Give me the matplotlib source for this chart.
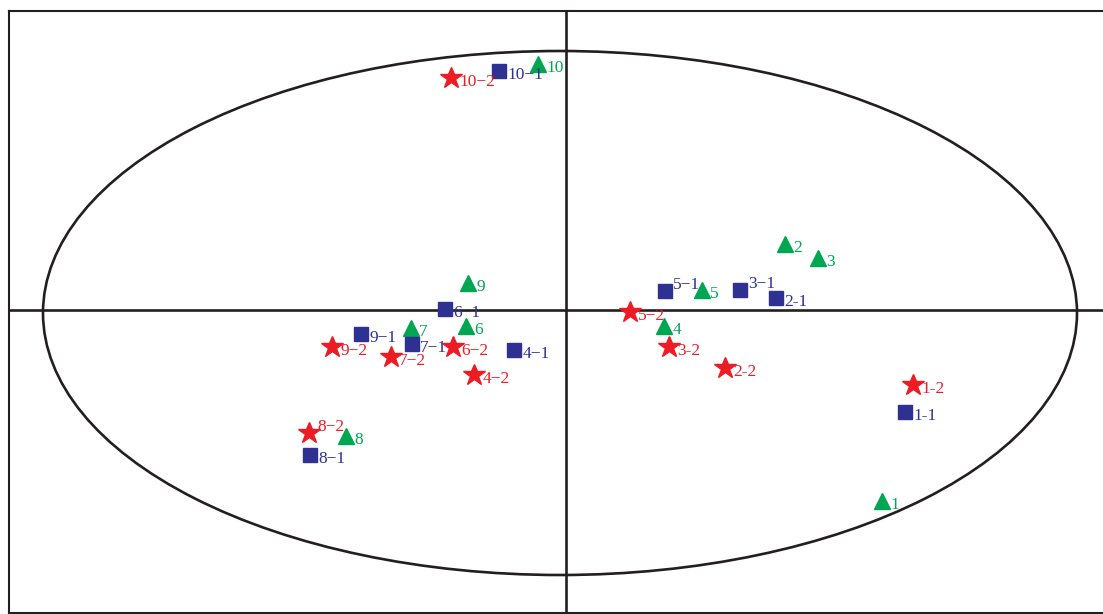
import matplotlib
matplotlib.use("Agg")
import matplotlib.pyplot as plt
from matplotlib.patches import Ellipse

# --- data ---
tri_labels = ['1', '2', '3', '4', '5', '6', '7', '8', '9', '10']
tri_x = [3.16, 2.19, 2.52, 0.98, 1.36, -1.00, -1.55, -2.20, -0.98, -0.28]
tri_y = [-1.91, 0.66, 0.52, -0.16, 0.20, -0.16, -0.18, -1.26, 0.27, 2.46]

sq_labels = ['1-1', '2-1', '3\u22121', '4\u22121', '5\u22121', '6\u22121',
             '7\u22121', '8\u22121', '9\u22121', '10\u22121']
sq_x = [3.39, 2.10, 1.74, -0.52, 0.99, -1.21, -1.54, -2.56, -2.05, -0.67]
sq_y = [-1.02, 0.12, 0.20, -0.40, 0.19, 0.01, -0.34, -1.45, -0.24, 2.39]

star_labels = ['1-2', '2-2', '3-2', '4\u22122', '5\u22122', '6\u22122',
               '7\u22122', '8\u22122', '9\u22122', '10\u22122']
star_x = [3.47, 1.59, 1.03, -0.92, 0.64, -1.13, -1.75, -2.57, -2.34, -1.15]
star_y = [-0.75, -0.58, -0.37, -0.65, -0.02, -0.37, -0.47, -1.23, -0.37, 2.32]

# confidence ellipse
ell_center = (-0.06, -0.03)
ell_width = 10.34
ell_height = 5.24

green = '#00A651'
navy = '#2E3192'
red = '#ED1C24'
dark = '#231F20'

# labels that sit above-right instead of right/below
up_labels = {'8\u22122', '5\u22121', '3\u22121'}

fig = plt.figure(figsize=(11.03, 6.14), dpi=100)
ax = fig.add_axes([9 / 1103, 1 / 614, 1097 / 1103, 602 / 614])
ax.set_xlim(-5.57, 5.40)
ax.set_ylim(-3.03, 2.99)

ax.axhline(0, color=dark, lw=1.9, zorder=1)
ax.axvline(0, color=dark, lw=1.9, zorder=1)
ax.add_patch(Ellipse(ell_center, ell_width, ell_height, fill=False,
                     edgecolor=dark, lw=1.9, zorder=1))

ax.plot(tri_x, tri_y, '^', color=green, ms=11.5, ls='none', zorder=3)
ax.plot(sq_x, sq_y, 's', color=navy, ms=10.5, ls='none', zorder=3)
ax.plot(star_x, star_y, '*', color=red, ms=16.5, ls='none', zorder=3)

font = dict(family=['Liberation Serif', 'DejaVu Serif'], fontsize=12.5)


def put_labels(xs, ys, labels, color, dx):
    for x, y, lab in zip(xs, ys, labels):
        if lab in up_labels:
            off = (dx, 4)
        else:
            off = (dx, -3)
        ax.annotate(lab, (x, y), xytext=off, textcoords='offset points',
                    color=color, ha='left', va='center', **font)


put_labels(tri_x, tri_y, tri_labels, green, 6)
put_labels(sq_x, sq_y, sq_labels, navy, 6)
put_labels(star_x, star_y, star_labels, red, 6)

ax.set_xticks([])
ax.set_yticks([])
for s in ax.spines.values():
    s.set_linewidth(1.5)
    s.set_color(dark)

fig.savefig('out.png', dpi=100)
